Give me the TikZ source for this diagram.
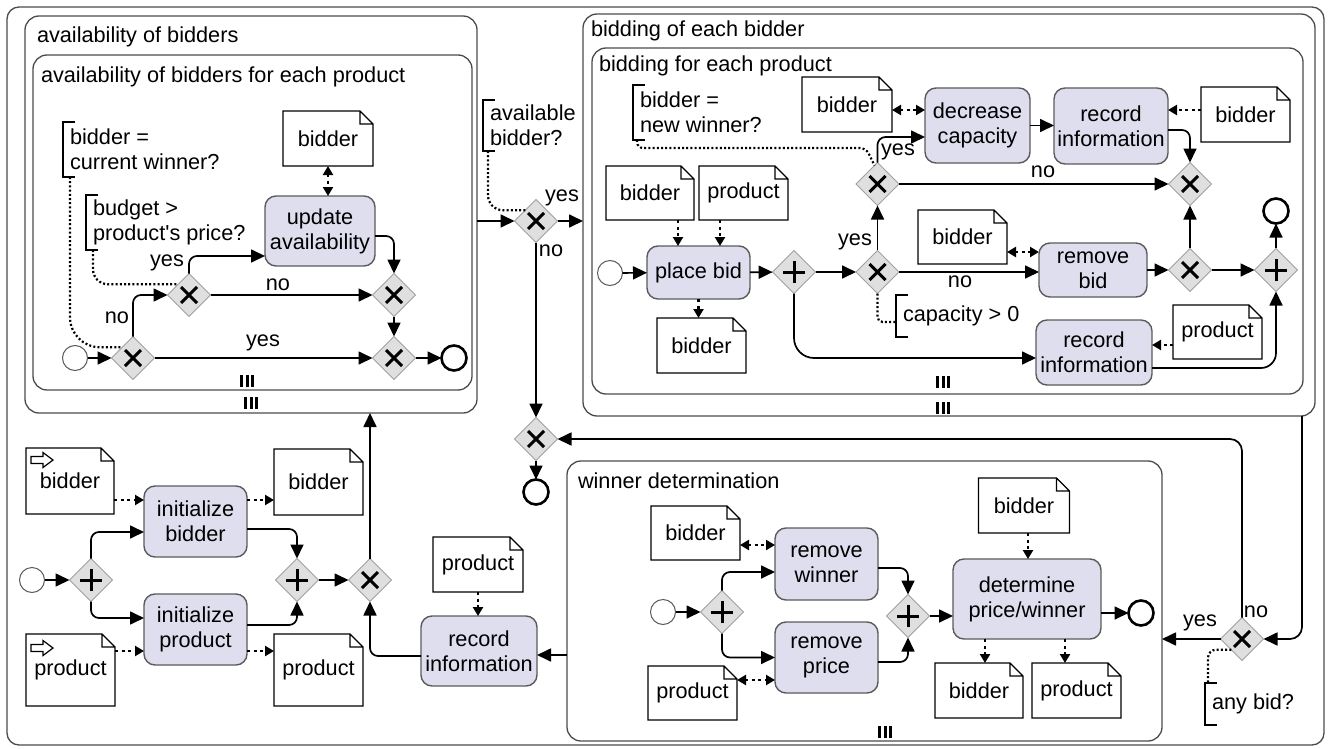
\documentclass[tikz,border=0pt]{standalone}
\usepackage{fontspec}
\setmainfont{Liberation Sans}
\usetikzlibrary{arrows.meta,shapes.geometric}
\definecolor{taskfill}{RGB}{222,222,238}
\definecolor{taskline}{RGB}{90,90,90}
\definecolor{gatefill}{RGB}{223,223,223}
\definecolor{gateline}{RGB}{160,160,160}
\definecolor{frameline}{RGB}{75,75,75}
\tikzset{
  subframe/.style={draw=frameline, line width=1.3pt, rounded corners=14pt, inner sep=0pt, outer sep=0pt},
  taskbox/.style={draw=taskline, fill=taskfill, line width=1.4pt, rounded corners=11pt, align=center, inner sep=0pt, outer sep=0pt},
  docbox/.style={fill=white, inner sep=0pt, outer sep=0pt, align=center},
  docline/.style={draw=black, line width=1.3pt, line join=miter},
  gate/.style={diamond, aspect=1, minimum width=43pt, minimum height=43pt, inner sep=0pt, outer sep=0pt, fill=gatefill, draw=gateline, line width=1pt},
  gmark/.style={line width=3pt, black},
  startev/.style={circle, minimum size=25pt, inner sep=0pt, outer sep=0pt, draw=taskline, line width=1pt, fill=white},
  endev/.style={circle, minimum size=25pt, inner sep=0pt, outer sep=0pt, draw=black, line width=2.6pt, fill=white},
  annbox/.style={align=left, inner xsep=7pt, inner ysep=0pt, outer sep=0pt},
  annline/.style={line width=1.2pt, black},
  flow/.style={line width=1.7pt, rounded corners=8pt, -{Triangle[length=14pt,width=13pt]}},
  assoc/.style={line width=2.4pt, dash pattern=on 3pt off 3.5pt},
  atip/.style={-{Triangle[length=9pt,width=10pt]}},
  btip/.style={{Triangle[length=9pt,width=10pt]}-{Triangle[length=9pt,width=10pt]}},
  annodot/.style={line width=2.2pt, dash pattern=on 2pt off 2.2pt},
  lbl/.style={inner sep=0pt, outer sep=0pt},
  ptitle/.style={anchor=base west, inner sep=0pt, outer sep=0pt},
}
\newcommand{\btask}[6]{\node[taskbox, minimum width=#4pt, minimum height=#5pt] (#1) at (#2,#3) {#6};}
\newcommand{\bdoc}[6]{%
  \node[docbox, minimum width=#4pt, minimum height=#5pt] (#1) at (#2,#3) {#6};
  \draw[docline] (#1.north west) -- ([xshift=-13pt]#1.north east) -- ([yshift=-13pt]#1.north east) -- (#1.south east) -- (#1.south west) -- cycle
    ([xshift=-13pt]#1.north east) |- ([yshift=-13pt]#1.north east);}
\newcommand{\xgw}[3]{\node[gate] (#1) at (#2,#3) {};
  \draw[gmark] ([shift={(-8pt,8pt)}]#1.center) -- ([shift={(8pt,-8pt)}]#1.center)
    ([shift={(-8pt,-8pt)}]#1.center) -- ([shift={(8pt,8pt)}]#1.center);}
\newcommand{\pgw}[3]{\node[gate] (#1) at (#2,#3) {};
  \draw[gmark] ([xshift=-11pt]#1.center) -- ([xshift=11pt]#1.center)
    ([yshift=-11pt]#1.center) -- ([yshift=11pt]#1.center);}
\newcommand{\sev}[3]{\node[startev] (#1) at (#2,#3) {};}
\newcommand{\eev}[3]{\node[endev] (#1) at (#2,#3) {};}
\newcommand{\bannot}[5]{%
  \node[annbox, minimum height=#4pt, anchor=west] (#1) at (#2,#3) {#5};
  \draw[annline] ([xshift=12pt]#1.north west) -- (#1.north west) -- (#1.south west) -- ([xshift=12pt]#1.south west);}
\newcommand{\mimark}[2]{\draw[line width=3pt] (#1-5.5,#2-6) -- (#1-5.5,#2+6) (#1,#2-6) -- (#1,#2+6) (#1+5.5,#2-6) -- (#1+5.5,#2+6);}
\newcommand{\inarrow}[2]{\draw[line width=1.2pt, line join=miter] (#1,#2+3.5) -- (#1+12,#2+3.5) -- (#1+12,#2+7.5) -- (#1+22,#2) -- (#1+12,#2-7.5) -- (#1+12,#2-3.5) -- (#1,#2-3.5) -- cycle;}

\begin{document}
\begin{tikzpicture}[x=1pt,y=-1pt, font=\fontsize{21.7}{25}\selectfont]
\useasboundingbox (0,0) rectangle (1330,749);

% ---------- frames ----------
\node[subframe, rounded corners=12pt, minimum width=1317pt, minimum height=738pt] (F0) at (665.5,376) {};
\node[subframe, minimum width=452pt, minimum height=397pt] (A1) at (251,214.5) {};
\node[subframe, minimum width=439pt, minimum height=335pt] (A2) at (252.5,222.5) {};
\node[subframe, minimum width=732pt, minimum height=402pt] (B1) at (949,215) {};
\node[subframe, minimum width=711pt, minimum height=346pt] (B2) at (947.5,221) {};
\node[subframe, minimum width=595pt, minimum height=280pt] (W) at (864.5,601) {};

\node[ptitle] (tA1) at (37,43) {availability of bidders};
\node[ptitle] (tA2) at (41,83) {availability of bidders for each product};
\node[ptitle] (tB1) at (591,37) {bidding of each bidder};
\node[ptitle] (tB2) at (599,72) {bidding for each product};
\node[ptitle] (tW) at (578,488) {winner determination};

\mimark{247}{381}
\mimark{251}{403}
\mimark{943}{382}
\mimark{943}{408}
\mimark{885}{732}

% ---------- availability of bidders ----------
\bannot{ann1}{63}{149.5}{55}{bidder =\\current winner?}
\bannot{ann2}{86}{222.5}{55}{budget >\\product\textquotesingle s price?}
\bdoc{docA}{328}{138.5}{90}{55}{bidder}
\btask{tUpd}{320}{231}{110}{70}{update\\availability}
\sev{sA}{75}{358}
\xgw{gA1}{133}{358}
\xgw{gA2}{189}{295}
\xgw{gA3}{394}{295}
\xgw{gA4}{394}{358}
\eev{eA}{454}{358}
\node[lbl] (l1) at (117,318) {no};
\node[lbl] (l2) at (167,263) {yes};
\node[lbl] (l3) at (278,285) {no};
\node[lbl] (l4) at (263,343) {yes};

\draw[flow] (sA) -- (gA1);
\draw[flow] (gA1.north) |- (gA2.west);
\draw[flow] (gA2.north) |- ([yshift=-25pt]tUpd.west);
\draw[flow] ([yshift=-5pt]tUpd.east) -| (gA3.north);
\draw[flow] (gA2) -- (gA3);
\draw[flow] (gA3) -- (gA4);
\draw[flow] (gA1) -- (gA4);
\draw[flow] (gA4) -- (eA);
\draw[assoc, btip] (docA.south) -- (docA.south |- tUpd.north);
\draw[annodot, rounded corners=30pt] ([xshift=7pt]ann1.south west) |- (gA1.north west);
\draw[annodot, rounded corners=15pt] ([xshift=7pt]ann2.south west) |- (gA2.north west);

% ---------- available bidder gateway ----------
\bannot{annAv}{483}{125.5}{51}{available\\bidder?}
\xgw{gAv}{536}{221}
\xgw{gM}{536}{439}
\eev{eM}{536}{492}
\node[lbl] (l5) at (562,198) {yes};
\node[lbl] (l6) at (551,251) {no};
\draw[flow] (A1.east |- gAv.west) -- (gAv.west);
\draw[flow] (gAv.east) -- (gAv.east -| B1.west);
\draw[flow] (gAv.south) -- (gM.north);
\draw[flow] (gM.south) -- (eM.north);
\draw[annodot, rounded corners=15pt] ([xshift=5pt]annAv.south west) |- (gAv.north west);

% ---------- bidding for each product ----------
\bannot{annNew}{633}{112.5}{55}{bidder =\\new winner?}
\bdoc{docB1}{847}{104.5}{90}{55}{bidder}
\btask{tDec}{977.5}{125.5}{105}{75}{decrease\\capacity}
\btask{tRec1}{1111}{126}{114}{76}{record\\information}
\bdoc{docB2}{1245.5}{114.5}{89}{55}{bidder}
\xgw{gNW}{877.5}{184}
\xgw{gMg}{1190}{184}
\eev{eB}{1276}{211}
\bdoc{docB3}{650}{193}{88}{54}{bidder}
\bdoc{docB4}{743.5}{193}{89}{54}{product}
\sev{sB}{610}{273}
\btask{tPlace}{698.5}{272.5}{103}{53}{place bid}
\pgw{gP1}{794}{272}
\xgw{gCap}{877.5}{272}
\bdoc{docB5}{701.5}{345.5}{89}{55}{bidder}
\bdoc{docB6}{962.5}{237}{89}{54}{bidder}
\btask{tRem}{1093}{270}{108}{54}{remove\\bid}
\xgw{gX5}{1190}{270}
\pgw{gP2}{1276}{270}
\bannot{annCap}{896}{316}{42}{capacity > 0}
\btask{tRec2}{1094}{352.5}{116}{65}{record\\information}
\bdoc{docB7}{1217.5}{332}{89}{54}{product}
\coordinate (cNW) at (866,148);
\node[lbl] (l7) at (898,152) {yes};
\node[lbl] (l8) at (1043,172) {no};
\node[lbl] (l9) at (855,242) {yes};
\node[lbl] (l10) at (960,282) {no};

\draw[flow] (sB) -- (tPlace);
\draw[assoc, atip] ([xshift=28pt]docB3.south) -- ([xshift=28pt]docB3.south |- tPlace.north);
\draw[assoc, atip] ([xshift=-23.5pt]docB4.south) -- ([xshift=-23.5pt]docB4.south |- tPlace.north);
\draw[assoc, atip] (tPlace.south) -- (tPlace.south |- docB5.north);
\draw[flow] (tPlace) -- (gP1);
\draw[flow] (gP1) -- (gCap);
\draw[flow, rounded corners=20pt] (gP1.south) |- ([yshift=-5.5pt]tRec2.west);
\draw[flow] (gCap) -- (gNW);
\draw[flow] (gCap.east) -- (gCap.east -| tRem.west);
\draw[annodot, rounded corners=5pt] (gCap.south) |- ([yshift=-6pt]annCap.west);
\draw[assoc, btip] ([yshift=-15pt]docB6.east) -- ([yshift=-15pt]docB6.east -| tRem.west);
\draw[flow] (tRem.east) -- (tRem.east -| gX5.west);
\draw[flow] (gX5) -- (gMg);
\draw[flow] (gX5) -- (gP2);
\draw[flow] (gP2) -- (eB);
\draw[flow, rounded corners=15pt] ([yshift=-15.5pt]tRec2.east) -| (gP2.south);
\draw[assoc, atip] ([yshift=-13pt]docB7.west) -- ([yshift=-13pt]docB7.west -| tRec2.east);
\draw[flow] (gNW.north) |- ([yshift=-11.5pt]tDec.west);
\draw[flow] (gNW) -- (gMg);
\draw[flow] (tDec.east) -- (tDec.east -| tRec1.west);
\draw[assoc, btip] ([yshift=-5.5pt]docB1.east) -- ([yshift=-5.5pt]docB1.east -| tDec.west);
\draw[assoc, atip] ([yshift=4.5pt]docB2.west) -- ([yshift=4.5pt]docB2.west -| tRec1.east);
\draw[flow] ([yshift=-4pt]tRec1.east) -| (gMg.north);
\draw[annodot, rounded corners=6pt] ([xshift=4pt]annNew.south west) |- (cNW) -- ([xshift=-3pt,yshift=-3pt]gNW.north);

% ---------- initialization ----------
\bdoc{docIB}{70}{481}{88}{66}{bidder}
\inarrow{31}{460}
\btask{tIB}{195.5}{521.5}{103}{71}{initialize\\bidder}
\bdoc{docOB}{318.5}{482}{89}{66}{bidder}
\sev{sI}{32}{580}
\pgw{gI1}{91}{580}
\btask{tIP}{195.5}{629.5}{103}{71}{initialize\\product}
\bdoc{docIP}{70.5}{670}{89}{72}{product}
\inarrow{31}{648}
\bdoc{docOP}{318.5}{670}{89}{72}{product}
\pgw{gI2}{297}{580}
\xgw{gI3}{370}{580}
\btask{tRI}{479}{651}{116}{70}{record\\information}
\bdoc{docRI}{478}{564.5}{90}{55}{product}
\coordinate (riE) at ([yshift=-4pt]tRI.east);

\draw[flow] (sI) -- (gI1);
\draw[flow] (gI1.north) |- ([yshift=-10.5pt]tIB.west);
\draw[flow] (gI1.south) |- ([yshift=11.5pt]tIP.west);
\draw[flow] ([yshift=-7.5pt]tIB.east) -| (gI2.north);
\draw[flow] ([yshift=4.5pt]tIP.east) -| (gI2.south);
\draw[flow] (gI2) -- (gI3);
\draw[flow] ([yshift=-5pt]tRI.west) -| (gI3.south);
\draw[flow] (gI3.north) -- (gI3.north |- A1.south);
\draw[flow] (W.west |- riE) -- (riE);
\draw[assoc, atip] ([yshift=-19pt]docIB.east) -- ([yshift=-19pt]docIB.east -| tIB.west);
\draw[assoc, atip] ([yshift=21.5pt]tIB.east) -- ([yshift=21.5pt]tIB.east -| docOB.west);
\draw[assoc, atip] ([yshift=19pt]docIP.east) -- ([yshift=19pt]docIP.east -| tIP.west);
\draw[assoc, atip] ([yshift=-21.5pt]tIP.east) -- ([yshift=-21.5pt]tIP.east -| docOP.west);
\draw[assoc, atip] (docRI.south) -- (docRI.south |- tRI.north);

% ---------- winner determination ----------
\bdoc{docW1}{695.5}{533}{89}{54}{bidder}
\bdoc{docW2}{692.5}{693}{89}{54}{product}
\sev{sW}{663}{612}
\pgw{gW1}{722}{612}
\btask{tRW}{826.5}{564}{103}{72}{remove\\winner}
\btask{tRP}{826.5}{657.5}{103}{71}{remove\\price}
\pgw{gW2}{908}{616}
\btask{tDet}{1027}{599}{148}{80}{determine\\price/winner}
\eev{eW}{1141}{613}
\bdoc{docW3}{1024}{505.5}{91}{55}{bidder}
\bdoc{docW4}{979}{690.5}{88}{55}{bidder}
\bdoc{docW5}{1076.5}{690.5}{89}{55}{product}
\xgw{gAny}{1242}{639}
\bannot{annAny}{1205}{704}{42}{any bid?}
\node[lbl] (l11) at (1200,623) {yes};
\node[lbl] (l12) at (1256,612) {no};

\draw[flow] (sW) -- (gW1);
\draw[flow] (gW1.north) |- ([yshift=-8pt]tRW.west);
\draw[flow] (gW1.south) |- (tRP.west);
\draw[flow] ([yshift=-4pt]tRW.east) -| (gW2.north);
\draw[flow] ([yshift=-4.5pt]tRP.east) -| (gW2.south);
\draw[flow] (gW2.east) -- (gW2.east -| tDet.west);
\draw[flow] (eW.west -| tDet.east) -- (eW.west);
\draw[assoc, btip] ([yshift=-12pt]docW1.east) -- ([yshift=-12pt]docW1.east -| tRW.west);
\draw[assoc, btip] ([yshift=13pt]docW2.east) -- ([yshift=13pt]docW2.east -| tRP.west);
\draw[assoc, atip] ([xshift=4pt]docW3.south) -- ([xshift=4pt]docW3.south |- tDet.north);
\draw[assoc, atip] ([xshift=6pt]docW4.north |- tDet.south) -- ([xshift=6pt]docW4.north);
\draw[assoc, atip] ([xshift=-11.5pt]docW5.north |- tDet.south) -- ([xshift=-11.5pt]docW5.north);
\draw[flow] (gAny.west) -- (gAny.west -| W.east);
\draw[flow, rounded corners=12pt] (gAny.north) |- (gM.east);
\draw[flow, rounded corners=12pt] ([xshift=-13pt]B1.south east) |- (gAny.east);
\draw[annodot, rounded corners=8pt] (gAny.south west) -| ([xshift=3pt]annAny.north west);
\end{tikzpicture}
\end{document}
